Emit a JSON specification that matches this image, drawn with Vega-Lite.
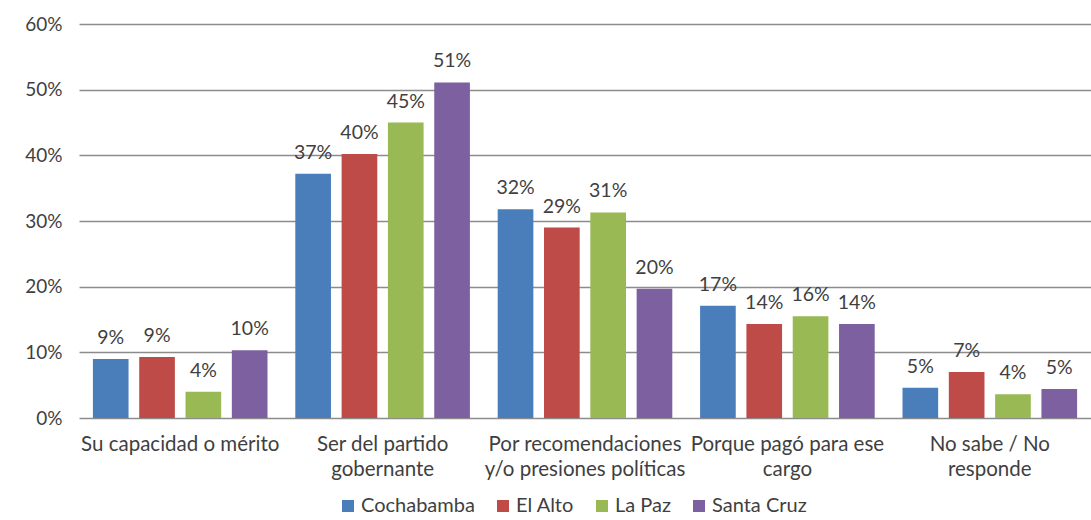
{
  "$schema": "https://vega.github.io/schema/vega-lite/v6.json",
  "autosize": "none",
  "width": 1012,
  "height": 394,
  "padding": {"left": 79, "top": 24, "right": 0, "bottom": 102},
  "background": "white",
  "config": {
    "font": "Lato",
    "view": {"stroke": null},
    "axis": {"labelFont": "Lato", "labelColor": "#3f3f3f", "labelFontSize": 19}
  },
  "data": {
    "values": [
      {"categoria": "Su capacidad o mérito", "ciudad": "Cochabamba", "valor": 0.09, "etiqueta": "9%"},
      {"categoria": "Su capacidad o mérito", "ciudad": "El Alto", "valor": 0.093, "etiqueta": "9%"},
      {"categoria": "Su capacidad o mérito", "ciudad": "La Paz", "valor": 0.04, "etiqueta": "4%"},
      {"categoria": "Su capacidad o mérito", "ciudad": "Santa Cruz", "valor": 0.103, "etiqueta": "10%"},
      {"categoria": "Ser del partido gobernante", "ciudad": "Cochabamba", "valor": 0.372, "etiqueta": "37%"},
      {"categoria": "Ser del partido gobernante", "ciudad": "El Alto", "valor": 0.402, "etiqueta": "40%"},
      {"categoria": "Ser del partido gobernante", "ciudad": "La Paz", "valor": 0.45, "etiqueta": "45%"},
      {"categoria": "Ser del partido gobernante", "ciudad": "Santa Cruz", "valor": 0.511, "etiqueta": "51%"},
      {"categoria": "Por recomendaciones y/o presiones políticas", "ciudad": "Cochabamba", "valor": 0.318, "etiqueta": "32%"},
      {"categoria": "Por recomendaciones y/o presiones políticas", "ciudad": "El Alto", "valor": 0.29, "etiqueta": "29%"},
      {"categoria": "Por recomendaciones y/o presiones políticas", "ciudad": "La Paz", "valor": 0.313, "etiqueta": "31%"},
      {"categoria": "Por recomendaciones y/o presiones políticas", "ciudad": "Santa Cruz", "valor": 0.197, "etiqueta": "20%"},
      {"categoria": "Porque pagó para ese cargo", "ciudad": "Cochabamba", "valor": 0.171, "etiqueta": "17%"},
      {"categoria": "Porque pagó para ese cargo", "ciudad": "El Alto", "valor": 0.143, "etiqueta": "14%"},
      {"categoria": "Porque pagó para ese cargo", "ciudad": "La Paz", "valor": 0.155, "etiqueta": "16%"},
      {"categoria": "Porque pagó para ese cargo", "ciudad": "Santa Cruz", "valor": 0.143, "etiqueta": "14%"},
      {"categoria": "No sabe / No responde", "ciudad": "Cochabamba", "valor": 0.046, "etiqueta": "5%"},
      {"categoria": "No sabe / No responde", "ciudad": "El Alto", "valor": 0.07, "etiqueta": "7%"},
      {"categoria": "No sabe / No responde", "ciudad": "La Paz", "valor": 0.036, "etiqueta": "4%"},
      {"categoria": "No sabe / No responde", "ciudad": "Santa Cruz", "valor": 0.044, "etiqueta": "5%"}
    ]
  },
  "encoding": {
    "x": {
      "field": "categoria",
      "type": "nominal",
      "sort": null,
      "title": null,
      "scale": {"paddingInner": 0, "paddingOuter": 0},
      "axis": {
        "labelAngle": 0,
        "domain": false,
        "ticks": false,
        "labelLimit": 0,
        "labelFontSize": 20.5,
        "labelPadding": 16,
        "labelLineHeight": 25,
        "labelExpr": "datum.value == 'Ser del partido gobernante' ? ['Ser del partido', 'gobernante'] : datum.value == 'Por recomendaciones y/o presiones políticas' ? ['Por recomendaciones', 'y/o presiones políticas'] : datum.value == 'Porque pagó para ese cargo' ? ['Porque pagó para ese', 'cargo'] : datum.value == 'No sabe / No responde' ? ['No sabe / No', 'responde'] : datum.value"
      }
    },
    "xOffset": {
      "field": "ciudad",
      "type": "nominal",
      "sort": ["Cochabamba", "El Alto", "La Paz", "Santa Cruz"],
      "scale": {"paddingInner": 0.23, "paddingOuter": 0.3}
    },
    "y": {
      "field": "valor",
      "type": "quantitative",
      "title": null,
      "scale": {"domain": [0, 0.6], "nice": false},
      "axis": {
        "format": ".0%",
        "values": [0, 0.1, 0.2, 0.3, 0.4, 0.5, 0.6],
        "labelOverlap": false,
        "domain": false,
        "ticks": false,
        "labelPadding": 17,
        "gridColor": "#8c8c8c",
        "gridWidth": 1.5
      }
    }
  },
  "layer": [
    {
      "mark": {"type": "bar"},
      "encoding": {
        "color": {
          "field": "ciudad",
          "type": "nominal",
          "sort": ["Cochabamba", "El Alto", "La Paz", "Santa Cruz"],
          "scale": {
            "domain": ["Cochabamba", "El Alto", "La Paz", "Santa Cruz"],
            "range": ["#4a7ebb", "#be4b48", "#98b954", "#7d60a0"]
          },
          "legend": {
            "title": null,
            "orient": "none",
            "direction": "horizontal",
            "legendX": 259,
            "legendY": 472,
            "symbolType": "square",
            "symbolSize": 144,
            "symbolStrokeWidth": 0,
            "labelFontSize": 20,
            "labelFont": "Lato",
            "labelColor": "#3f3f3f",
            "columnPadding": 18,
            "labelOffset": 3
          }
        }
      }
    },
    {
      "mark": {"type": "text", "baseline": "bottom", "dy": -11, "fontSize": 19.5, "font": "Lato", "color": "#3f3f3f"},
      "encoding": {"text": {"field": "etiqueta"}}
    }
  ]
}
